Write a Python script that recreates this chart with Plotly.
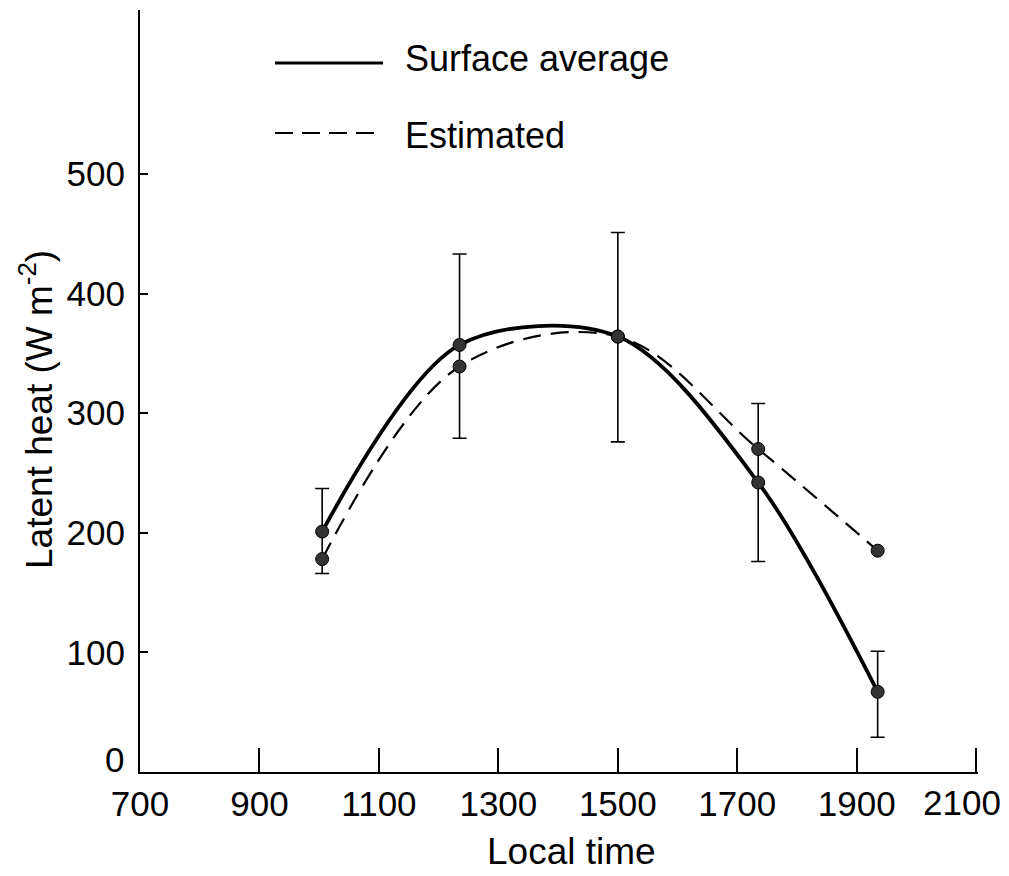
import plotly.graph_objects as go

time = [1005, 1235, 1500, 1735, 1935]
surface_avg = [201, 357, 364, 242, 67]
estimated = [178, 339, 364, 270, 185]
err_upper = [237, 433, 451, 308, 101]
err_lower = [166, 279, 276, 176, 29]

x_ticks = [700, 900, 1100, 1300, 1500, 1700, 1900, 2100]
y_ticks = [0, 100, 200, 300, 400, 500]

regular = "Liberation Sans, Arial, Helvetica, sans-serif"

fig = go.Figure()

# error bars
fig.add_trace(go.Scatter(
    x=time, y=surface_avg, mode="markers",
    marker=dict(size=1, color="rgba(0,0,0,0)"),
    error_y=dict(type="data", symmetric=False,
                 array=[u - v for u, v in zip(err_upper, surface_avg)],
                 arrayminus=[v - l for l, v in zip(err_lower, surface_avg)],
                 color="black", thickness=1.6, width=7),
    showlegend=False, hoverinfo="skip"))

fig.add_trace(go.Scatter(
    x=time, y=estimated, mode="lines+markers", name="Estimated",
    line=dict(color="black", width=2.2, dash="18px,10px", shape="spline", smoothing=1.0),
    marker=dict(size=13, color="#333333", line=dict(color="black", width=1)),
    showlegend=False))

fig.add_trace(go.Scatter(
    x=time, y=surface_avg, mode="lines+markers", name="Surface average",
    line=dict(color="black", width=3.8, shape="spline", smoothing=0.9),
    marker=dict(size=13, color="#333333", line=dict(color="black", width=1)),
    showlegend=False))

# legend drawn manually
W, H = 1009, 876
L, R, T, B = 140, 31, 10, 104
pw, ph = W - L - R, H - T - B

def px(xp):
    return (xp - L) / pw

def py(yp):
    return (H - B - yp) / ph

fig.add_shape(type="line", xref="paper", yref="paper",
              x0=px(275), x1=px(383), y0=py(63), y1=py(63),
              line=dict(color="black", width=3.2))
fig.add_shape(type="line", xref="paper", yref="paper",
              x0=px(275), x1=px(383), y0=py(133), y1=py(133),
              line=dict(color="black", width=2.2, dash="18px,9px"))
fig.add_annotation(xref="paper", yref="paper", x=px(403), y=py(58),
                   text="Surface average", showarrow=False, xanchor="left", yanchor="middle",
                   font=dict(family=regular, size=36, color="black"))
fig.add_annotation(xref="paper", yref="paper", x=px(403), y=py(135),
                   text="Estimated", showarrow=False, xanchor="left", yanchor="middle",
                   font=dict(family=regular, size=36, color="black"))

# axis titles
fig.add_annotation(xref="paper", yref="paper", x=px(571), y=py(851),
                   text="Local time", showarrow=False, xanchor="center", yanchor="middle",
                   font=dict(family=regular, size=37, color="black"))
fig.add_annotation(xref="paper", yref="paper", x=px(36), y=py(410),
                   text="Latent heat (W m<sup>-2</sup>)", showarrow=False, textangle=-90,
                   xanchor="center", yanchor="middle",
                   font=dict(family=regular, size=37, color="black"))
# "0" label sits just above the x axis in the reference
fig.add_annotation(xref="paper", yref="y", x=px(126), y=0, yshift=13,
                   text="0", showarrow=False, xanchor="right", yanchor="middle",
                   font=dict(family=regular, size=35, color="black"))
# last x label squeezed against the right page edge
fig.add_annotation(xref="x", yref="paper", x=x_ticks[-1], y=0, xshift=27, yshift=-9,
                   text=str(x_ticks[-1]), showarrow=False, xanchor="right", yanchor="top",
                   font=dict(family=regular, size=35, color="black"))

fig.update_layout(
    width=W, height=H,
    margin=dict(l=L, r=R, t=T, b=B, pad=0),
    plot_bgcolor="white", paper_bgcolor="white",
    showlegend=False,
)
fig.update_xaxes(range=[700, 2103], tickvals=x_ticks,
                 ticktext=["" if v == x_ticks[-1] else str(v) for v in x_ticks],
                 showgrid=False, zeroline=False, showline=True, linecolor="black", linewidth=2,
                 ticks="inside", ticklen=24, tickwidth=1.6, tickcolor="black",
                 automargin=False, ticklabeloverflow="allow",
                 tickfont=dict(family=regular, size=35, color="black"))
fig.update_yaxes(range=[0, 637], tickvals=y_ticks,
                 ticktext=["" if v == 0 else str(v) for v in y_ticks],
                 showgrid=False, zeroline=False, showline=True, linecolor="black", linewidth=2,
                 ticks="inside", ticklen=8, tickwidth=1.6, tickcolor="black",
                 automargin=False, ticklabelstandoff=6,
                 tickfont=dict(family=regular, size=35, color="black"))

fig.write_html("out.html")
